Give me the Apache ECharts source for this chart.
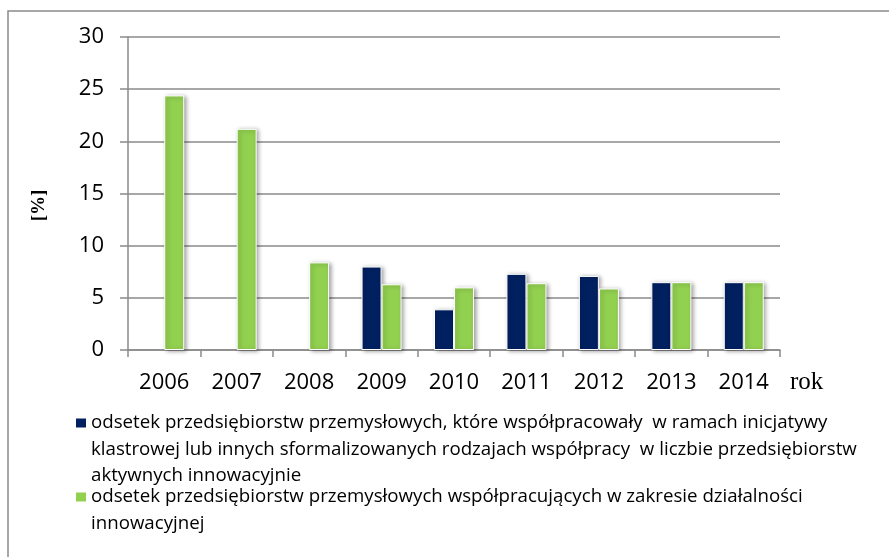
<!DOCTYPE html>
<html>
<head>
<meta charset="utf-8">
<script src="https://cdn.jsdelivr.net/npm/echarts@6/dist/echarts.min.js"></script>
<style>
html, body { margin: 0; padding: 0; background: #fff; }
#chart { width: 889px; height: 557px; }
</style>
</head>
<body>
<div id="chart"></div>
<script>
var years = ['2006', '2007', '2008', '2009', '2010', '2011', '2012', '2013', '2014'];
var klastry = [null, null, null, 8.0, 3.9, 7.3, 7.1, 6.5, 6.5];
var wspolpraca = [24.4, 21.2, 8.4, 6.3, 6.0, 6.4, 5.9, 6.5, 6.5];
var yTicks = [0, 5, 10, 15, 20, 25, 30];

var name1Lines = [
    'odsetek przedsiębiorstw przemysłowych, które współpracowały  w ramach inicjatywy',
    'klastrowej lub innych sformalizowanych rodzajach współpracy  w liczbie przedsiębiorstw',
    'aktywnych innowacyjnie'
];
var name2Lines = [
    'odsetek przedsiębiorstw przemysłowych współpracujących w zakresie działalności',
    'innowacyjnej'
];
var name1 = name1Lines.join(' ');
var name2 = name2Lines.join(' ');

var chart = echarts.init(document.getElementById('chart'));
var lh = 26.5;
var font = '"Open Sans", sans-serif';

// icon sits on the first line: pad the text with empty lines above so
// the first real line lands in the middle of the block
function legendFor(name, lines, firstLineY) {
    var pad = lines.length - 1;
    var total = lines.length + pad;
    return {
        left: 76,
        top: firstLineY - total * lh / 2,
        padding: 0,
        icon: 'rect',
        itemWidth: 10,
        itemHeight: 9,
        itemGap: 0,
        selectedMode: false,
        data: [name],
        itemStyle: { borderWidth: 0, shadowBlur: 0, shadowOffsetX: 0, shadowOffsetY: 0 },
        formatter: function () { return new Array(pad + 1).join('\n') + lines.join('\n'); },
        textStyle: {
            fontFamily: font,
            fontSize: 18.7,
            color: '#000',
            lineHeight: lh
        }
    };
}

var barStyle = {
    borderColor: '#fff',
    borderWidth: 1,
    shadowBlur: 4,
    shadowColor: 'rgba(0,0,0,0.35)',
    shadowOffsetX: 2,
    shadowOffsetY: 1
};

var option = {
    animation: false,
    backgroundColor: '#fff',
    graphic: [{
        type: 'rect',
        shape: { x: 8, y: 11, width: 900, height: 600 },
        style: { fill: 'none', stroke: '#8a8a8a', lineWidth: 1.5 },
        silent: true
    }],
    grid: { left: 128, right: 109, top: 37, bottom: 207 },
    legend: [
        legendFor(name1, name1Lines, 423),
        legendFor(name2, name2Lines, 497)
    ],
    xAxis: {
        type: 'category',
        data: years,
        name: 'rok',
        nameLocation: 'end',
        nameGap: 10,
        nameTextStyle: {
            fontFamily: '"Liberation Serif", serif',
            fontSize: 25,
            color: '#000',
            verticalAlign: 'top',
            lineHeight: 64
        },
        axisLine: { lineStyle: { color: '#8a8a8a', width: 1.5 } },
        axisTick: { show: true, length: 7, lineStyle: { color: '#8a8a8a', width: 1.5 } },
        axisLabel: { fontFamily: font, fontSize: 22, color: '#000', margin: 22 }
    },
    yAxis: {
        type: 'value',
        min: 0,
        max: 30,
        interval: 5,
        name: '[%]',
        nameLocation: 'middle',
        nameRotate: 90,
        nameGap: 79,
        nameTextStyle: {
            fontFamily: '"Liberation Serif", serif',
            fontWeight: 'bold',
            fontSize: 19,
            color: '#000',
            padding: [0, 24, 0, 0]
        },
        axisLine: { show: true, lineStyle: { color: '#8a8a8a', width: 1.5 } },
        axisTick: { show: true, length: 8, lineStyle: { color: '#8a8a8a', width: 1.5 } },
        splitLine: { lineStyle: { color: '#8a8a8a', width: 1.5 } },
        axisLabel: {
            fontFamily: font,
            fontSize: 22,
            color: '#000',
            margin: 24,
            formatter: function (v) { return yTicks.indexOf(v) >= 0 ? String(v) : ''; }
        }
    },
    series: [
        {
            name: name1,
            type: 'bar',
            data: klastry,
            barWidth: 20,
            barGap: '0%',
            itemStyle: Object.assign({ color: '#002060' }, barStyle)
        },
        {
            name: name2,
            type: 'bar',
            data: wspolpraca,
            barWidth: 20,
            barGap: '0%',
            itemStyle: Object.assign({ color: '#92d050' }, barStyle)
        }
    ]
};

chart.setOption(option);
</script>
</body>
</html>
